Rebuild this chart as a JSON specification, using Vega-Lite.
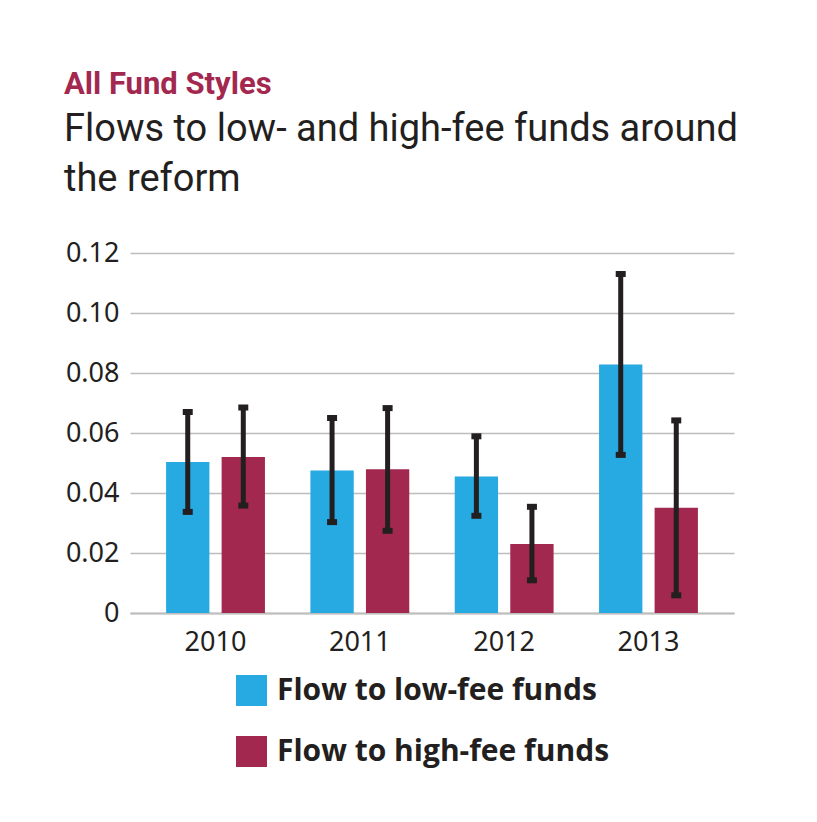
{
  "$schema": "https://vega.github.io/schema/vega-lite/v6.json",
  "width": 604,
  "height": 360,
  "padding": {"left": 64, "top": 69, "right": 82, "bottom": 40},
  "background": "white",
  "title": {
    "text": "All Fund Styles",
    "subtitle": ["Flows to low- and high-fee funds around", "the reform"],
    "anchor": "start",
    "frame": "group",
    "dx": -66,
    "font": "Roboto",
    "fontSize": 31,
    "fontWeight": "bold",
    "color": "#a3284f",
    "subtitleFont": "Roboto",
    "subtitleFontSize": 38,
    "subtitleColor": "#231f20",
    "subtitleLineHeight": 50,
    "subtitlePadding": 10,
    "offset": 39
  },
  "data": {
    "values": [
      {"year": "2010", "series": "Flow to low-fee funds", "value": 0.0503, "lo": 0.0337, "hi": 0.067},
      {"year": "2010", "series": "Flow to high-fee funds", "value": 0.052, "lo": 0.0358, "hi": 0.0685},
      {"year": "2011", "series": "Flow to low-fee funds", "value": 0.0475, "lo": 0.0303, "hi": 0.065},
      {"year": "2011", "series": "Flow to high-fee funds", "value": 0.0479, "lo": 0.0274, "hi": 0.0683},
      {"year": "2012", "series": "Flow to low-fee funds", "value": 0.0455, "lo": 0.0324, "hi": 0.0589},
      {"year": "2012", "series": "Flow to high-fee funds", "value": 0.023, "lo": 0.0109, "hi": 0.0354},
      {"year": "2013", "series": "Flow to low-fee funds", "value": 0.0828, "lo": 0.0527, "hi": 0.113},
      {"year": "2013", "series": "Flow to high-fee funds", "value": 0.0351, "lo": 0.0059, "hi": 0.0642}
    ]
  },
  "encoding": {
    "x": {
      "field": "year",
      "type": "ordinal",
      "scale": {"paddingInner": 0.315, "paddingOuter": 0.25},
      "axis": {
        "title": null,
        "labelAngle": 0,
        "labelFont": "Noto Sans",
        "labelFontSize": 27,
        "labelColor": "#231f20",
        "labelPadding": 16,
        "ticks": false,
        "domainColor": "#bdbdbd",
        "domainWidth": 2
      }
    },
    "xOffset": {
      "field": "series",
      "type": "nominal",
      "sort": ["Flow to low-fee funds", "Flow to high-fee funds"],
      "scale": {"paddingInner": 0.22}
    }
  },
  "layer": [
    {
      "mark": {"type": "bar"},
      "encoding": {
        "y": {
          "field": "value",
          "type": "quantitative",
          "scale": {"domain": [0, 0.12], "nice": false},
          "axis": {
            "title": null,
            "values": [0, 0.02, 0.04, 0.06, 0.08, 0.1, 0.12],
            "labelExpr": "datum.value === 0 ? '0' : format(datum.value, '.2f')",
            "labelFont": "Noto Sans",
            "labelFontSize": 27,
            "labelColor": "#231f20",
            "labelPadding": 11,
            "ticks": false,
            "domain": false,
            "gridColor": "#bdbdbd",
            "gridWidth": 1.5
          }
        },
        "color": {
          "field": "series",
          "type": "nominal",
          "scale": {
            "domain": ["Flow to low-fee funds", "Flow to high-fee funds"],
            "range": ["#27aae1", "#a3284f"]
          },
          "legend": {
            "title": null,
            "orient": "none",
            "legendX": 106,
            "legendY": 422,
            "direction": "vertical",
            "symbolType": "square",
            "symbolSize": 961,
            "symbolStrokeWidth": 0,
            "symbolOpacity": 1,
            "labelFont": "Open Sans",
            "labelFontWeight": "bold",
            "labelFontSize": 30,
            "labelColor": "#231f20",
            "labelOffset": 10,
            "rowPadding": 30,
            "labelLimit": 500
          }
        }
      }
    },
    {
      "mark": {"type": "rule", "color": "#231f20", "strokeWidth": 5},
      "encoding": {
        "y": {"field": "lo", "type": "quantitative"},
        "y2": {"field": "hi"}
      }
    },
    {
      "mark": {"type": "tick", "color": "#231f20", "orient": "horizontal", "size": 10, "thickness": 6, "opacity": 1},
      "encoding": {"y": {"field": "lo", "type": "quantitative"}}
    },
    {
      "mark": {"type": "tick", "color": "#231f20", "orient": "horizontal", "size": 10, "thickness": 6, "opacity": 1},
      "encoding": {"y": {"field": "hi", "type": "quantitative"}}
    }
  ],
  "config": {"view": {"stroke": null}}
}
